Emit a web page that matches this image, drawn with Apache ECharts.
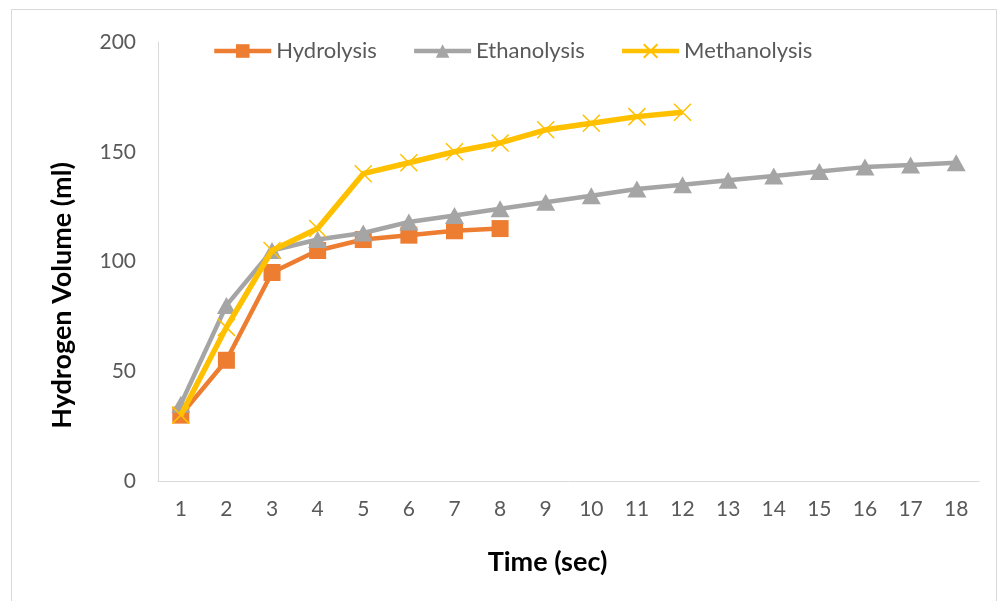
<!DOCTYPE html>
<html><head><meta charset="utf-8">
<script src="https://cdn.jsdelivr.net/npm/echarts@6/dist/echarts.min.js"></script>
<style>html,body{margin:0;padding:0;background:#fff}#c{width:998px;height:601px}</style>
</head><body><div id="c"></div>
<script>
const categories = ['1','2','3','4','5','6','7','8','9','10','11','12','13','14','15','16','17','18'];
const hydrolysis = [30, 55, 95, 105, 110, 112, 114, 115];
const ethanolysis = [35, 80, 105, 110, 113, 118, 121, 124, 127, 130, 133, 135, 137, 139, 141, 143, 144, 145];
const methanolysis = [30, 70, 105, 115, 140, 145, 150, 154, 160, 163, 166, 168];
const yTicks = {min: 0, max: 200, interval: 50};

const FONT = 'Lato, "Open Sans", sans-serif';
const crossPath = 'path://M0,0L10,10M10,0L0,10';
const chart = echarts.init(document.getElementById('c'));
chart.setOption({
  animation: false,
  backgroundColor: '#fff',
  graphic: [{type:'rect', shape:{x:11.5,y:9.5,width:985,height:600}, style:{fill:'none',stroke:'#D9D9D9',lineWidth:1}}],
  grid: {left: 158, right: 19, top: 42, bottom: 120},
  legend: {
    top: 35, left: 207, itemWidth: 57, itemHeight: 17, itemGap: 35,
    textStyle: {fontFamily: FONT, fontSize: 22, color: '#595959'},
    data: [
      {name:'Hydrolysis', lineStyle:{width:4.5}},
      {name:'Ethanolysis', lineStyle:{width:4.5}},
      {name:'Methanolysis', lineStyle:{width:4.5}}
    ]
  },
  xAxis: {
    type: 'category', data: categories, boundaryGap: true,
    name: 'Time (sec)', nameLocation: 'middle', nameGap: 68,
    nameTextStyle: {fontFamily: FONT, fontSize: 27, fontWeight: 'bold', color: '#000', padding: [0, 42, 0, 0]},
    axisLine: {lineStyle: {color: '#D9D9D9', width: 1}},
    axisTick: {show: false},
    axisLabel: {fontFamily: FONT, fontSize: 21, color: '#595959', margin: 18}
  },
  yAxis: {
    type: 'value', min: yTicks.min, max: yTicks.max, interval: yTicks.interval,
    name: 'Hydrogen Volume (ml)', nameLocation: 'middle', nameGap: 82,
    nameTextStyle: {fontFamily: FONT, fontSize: 27, fontWeight: 'bold', color: '#000', padding: [0, 68, 0, 0]},
    axisLine: {show: true, lineStyle: {color: '#D9D9D9', width: 1}},
    axisTick: {show: false},
    splitLine: {show: false},
    axisLabel: {fontFamily: FONT, fontSize: 21, color: '#595959', margin: 22}
  },
  series: [
    {name:'Hydrolysis', type:'line', data: hydrolysis, symbol:'rect', symbolSize: 17,
     lineStyle:{color:'#ED7D31', width:4.5}, itemStyle:{color:'#ED7D31'}, z: 2},
    {name:'Ethanolysis', type:'line', data: ethanolysis, symbol:'triangle', symbolSize: [19,17],
     lineStyle:{color:'#A5A5A5', width:4.5}, itemStyle:{color:'#A5A5A5'}, z: 3},
    {name:'Methanolysis', type:'line', data: methanolysis, symbol: crossPath, symbolSize: 17,
     lineStyle:{color:'#FFC000', width:5.5}, itemStyle:{color:'#FFC000', borderColor:'#FFC000', borderWidth:1.5}, z: 4}
  ]
});
</script></body></html>
